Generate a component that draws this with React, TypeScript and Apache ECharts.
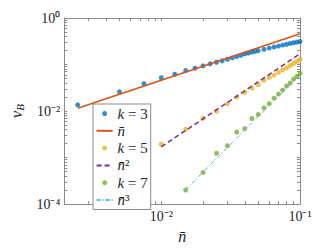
import React, { useEffect, useRef } from 'react';
import * as echarts from 'echarts';

// k = 3 data
const k3X = [0.0025, 0.005, 0.0075, 0.01, 0.0125, 0.015, 0.0175, 0.02, 0.0225, 0.025, 0.0275, 0.03, 0.0325, 0.035, 0.0375, 0.04, 0.0425, 0.045, 0.0475, 0.05, 0.055, 0.06, 0.065, 0.07, 0.075, 0.08, 0.085, 0.09, 0.095, 0.1];
const k3Y = [0.0136, 0.0258, 0.0388, 0.052, 0.0617, 0.0745, 0.0835, 0.0938, 0.1033, 0.112, 0.1197, 0.13, 0.1387, 0.148, 0.158, 0.1687, 0.177, 0.186, 0.192, 0.199, 0.212, 0.226, 0.238, 0.249, 0.262, 0.271, 0.284, 0.294, 0.303, 0.313];
// k = 5 data
const k5X = [0.01, 0.015, 0.02, 0.025, 0.03, 0.035, 0.04, 0.045, 0.05, 0.055, 0.06, 0.065, 0.07, 0.075, 0.08, 0.085, 0.09, 0.095, 0.1];
const k5Y = [0.00196, 0.00408, 0.00699, 0.00984, 0.0143, 0.0199, 0.0254, 0.0313, 0.0369, 0.0457, 0.0529, 0.0593, 0.0676, 0.0771, 0.0849, 0.0953, 0.105, 0.116, 0.13];
// k = 7 data
const k7X = [0.015, 0.02, 0.025, 0.03, 0.035, 0.04, 0.045, 0.05, 0.055, 0.06, 0.065, 0.07, 0.075, 0.08, 0.085, 0.09, 0.095, 0.1];
const k7Y = [0.000201, 0.00048, 0.00124, 0.0018, 0.00352, 0.0042, 0.00692, 0.00843, 0.0117, 0.0144, 0.0189, 0.0232, 0.0282, 0.0345, 0.04, 0.0486, 0.0556, 0.0653];
// reference power-law lines
const fit1X = [0.0025, 0.1];
const fit1Y = [0.0115, 0.46];
const fit2X = [0.01, 0.1];
const fit2Y = [0.0017, 0.17];
const fit3X = [0.015, 0.1];
const fit3Y = [0.000206, 0.061];

const seriesNames = ['k = 3', 'n\u0304', 'k = 5', 'n\u0304\u00b2', 'k = 7', 'n\u0304\u00b3'];
const xLabelValues = [0.01, 0.1];
const yLabelValues = [1e-4, 1e-2, 1];
const xRange = [0.002, 0.1];
const yRange = [1e-4, 1];

const FONT = "'Liberation Serif', 'Times New Roman', serif";
const AXIS_COLOR = '#8a8a8a';
const TEXT_COLOR = '#262626';

const SUP: Record<string, string> = { '-': '\u207b', '0': '\u2070', '1': '\u00b9', '2': '\u00b2', '3': '\u00b3', '4': '\u2074', '5': '\u2075', '6': '\u2076', '7': '\u2077', '8': '\u2078', '9': '\u2079' };
const toSup = (n: number) => String(n).split('').map((c) => SUP[c] || c).join('');
const powLabel = (v: number) => '10' + toSup(Math.round(Math.log10(v)));

const logTicks = (lo: number, hi: number) => {
  const out: number[] = [];
  const e0 = Math.floor(Math.log10(lo) + 1e-9);
  const e1 = Math.round(Math.log10(hi));
  for (let e = e0; e < e1; e++) {
    for (let m = 1; m <= 9; m++) {
      const v = parseFloat((m * Math.pow(10, e)).toPrecision(6));
      if (v >= lo * 0.9999 && v <= hi * 1.0001) out.push(v);
    }
  }
  out.push(hi);
  return out;
};

const zip = (xs: number[], ys: number[]) => xs.map((x, i) => [x, ys[i]]);

export default function App() {
  const ref = useRef<HTMLDivElement>(null);
  useEffect(() => {
    document.body.style.margin = '0';
    if (!ref.current) return;
    const chart = echarts.init(ref.current, undefined, { renderer: 'svg' });
    const xTicks = logTicks(xRange[0], xRange[1]);
    const yTicks = logTicks(yRange[0], yRange[1]);
    const baseAxis = {
      type: 'log' as const,
      logBase: 10,
      axisLine: { show: true, lineStyle: { color: AXIS_COLOR, width: 1 } },
      splitLine: { show: false },
      minorTick: { show: false },
    };
    const mkX = (pos: 'top' | 'bottom', labels: boolean) => ({
      ...baseAxis,
      position: pos,
      min: xRange[0],
      max: xRange[1],
      axisTick: { show: true, inside: true, length: 3, customValues: xTicks, lineStyle: { color: AXIS_COLOR } },
      axisLabel: labels
        ? { show: true, customValues: xLabelValues, formatter: (v: number) => powLabel(v), fontFamily: FONT, fontSize: 14, color: TEXT_COLOR, margin: 5 }
        : { show: false },
    });
    const mkY = (pos: 'left' | 'right', labels: boolean) => ({
      ...baseAxis,
      position: pos,
      min: yRange[0],
      max: yRange[1],
      axisTick: { show: true, inside: true, length: 3, customValues: yTicks, lineStyle: { color: AXIS_COLOR } },
      axisLabel: labels
        ? { show: true, customValues: yLabelValues, formatter: (v: number) => powLabel(v), fontFamily: FONT, fontSize: 14, color: TEXT_COLOR, margin: 4 }
        : { show: false },
    });
    const xMain: any = mkX('bottom', true);
    xMain.name = 'n\u0304';
    xMain.nameLocation = 'middle';
    xMain.nameGap = 22;
    xMain.nameTextStyle = { fontFamily: FONT, fontSize: 16, fontStyle: 'italic', color: TEXT_COLOR };
    const yMain: any = mkY('left', true);
    yMain.name = '{v|v}{b|B}';
    yMain.nameLocation = 'middle';
    yMain.nameGap = 38;
    yMain.nameTextStyle = {
      color: TEXT_COLOR,
      rich: {
        v: { fontFamily: FONT, fontSize: 17, fontStyle: 'italic', color: TEXT_COLOR, lineHeight: 18, verticalAlign: 'middle' },
        b: { fontFamily: FONT, fontSize: 11, fontStyle: 'italic', color: TEXT_COLOR, lineHeight: 8, verticalAlign: 'bottom' },
      },
    };

    const colors = ['#0072BD', '#D95319', '#EDB120', '#7E2F8E', '#77AC30', '#4DBEEE'];
    const scatter = (name: string, data: number[][], color: string) => ({
      type: 'scatter' as const,
      name,
      data,
      symbol: 'circle',
      symbolSize: 5,
      itemStyle: { color },
      xAxisIndex: 0,
      yAxisIndex: 0,
    });
    const line = (name: string, data: number[][], color: string, width: number, type: any) => ({
      type: 'line' as const,
      name,
      data,
      symbol: 'none',
      showSymbol: false,
      lineStyle: { color, width, type },
      itemStyle: { color },
      xAxisIndex: 0,
      yAxisIndex: 0,
    });

    const legendData = seriesNames.map((n, i) =>
      i % 2 === 1 ? { name: n, itemStyle: { opacity: 0, borderWidth: 0 } } : { name: n, icon: 'circle' }
    );

    chart.setOption({
      animation: false,
      grid: { left: 54, top: 18, width: 246, height: 188, containLabel: false },
      xAxis: [xMain, mkX('top', false)],
      yAxis: [yMain, mkY('right', false)],
      legend: {
        orient: 'vertical',
        left: 93,
        top: 104,
        backgroundColor: '#ffffff',
        borderColor: AXIS_COLOR,
        borderWidth: 1,
        borderRadius: 0,
        padding: [2, 3, 2, 2.6],
        itemWidth: 16,
        itemHeight: 5,
        itemGap: 2.3,
        selectedMode: false,
        data: legendData,
        formatter: (name: string) => {
          if (name.startsWith('k')) return `{i|k}{r|${name.slice(1)}}`;
          return `{i|n\u0304}{r|${name.slice(2)}}`;
        },
        textStyle: {
          fontFamily: FONT,
          fontSize: 15,
          lineHeight: 14,
          color: TEXT_COLOR,
          rich: {
            i: { fontFamily: FONT, fontSize: 15, fontStyle: 'italic', color: TEXT_COLOR, lineHeight: 14 },
            r: { fontFamily: FONT, fontSize: 15, color: TEXT_COLOR, lineHeight: 14 },
          },
        },
      },
      series: [
        scatter(seriesNames[0], zip(k3X, k3Y), colors[0]),
        line(seriesNames[1], zip(fit1X, fit1Y), colors[1], 1.5, 'solid'),
        scatter(seriesNames[2], zip(k5X, k5Y), colors[2]),
        line(seriesNames[3], zip(fit2X, fit2Y), colors[3], 1.5, [5, 3]),
        scatter(seriesNames[4], zip(k7X, k7Y), colors[4]),
        line(seriesNames[5], zip(fit3X, fit3Y), colors[5], 1, [4, 2, 1, 2]),
      ],
    });
    return () => chart.dispose();
  }, []);
  return <div ref={ref} style={{ width: 332, height: 249 }} />;
}
